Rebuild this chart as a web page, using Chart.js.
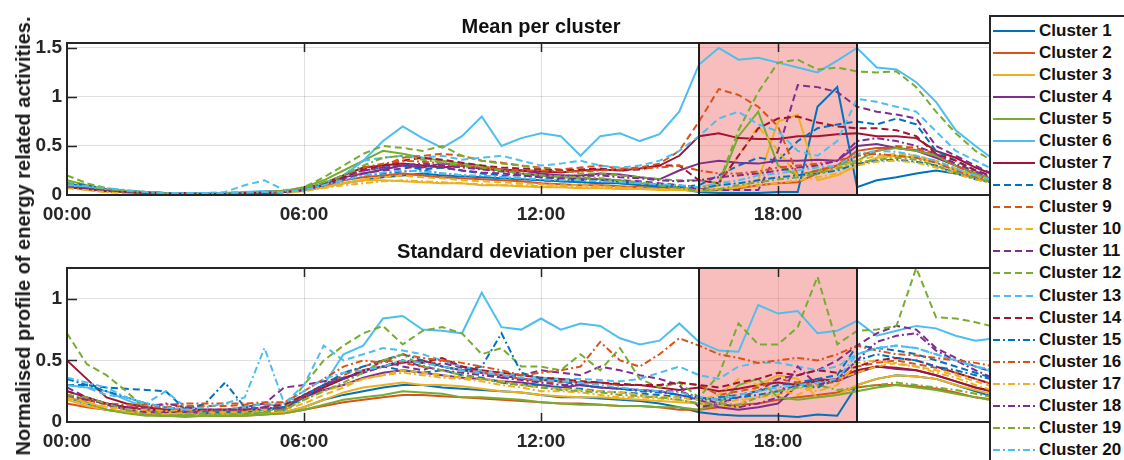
<!DOCTYPE html>
<html lang="en">
<head>
    <meta charset="UTF-8">
    <title>Cluster profiles</title>
    <script src="https://cdn.jsdelivr.net/npm/chart.js"></script>
    <style>
        body { margin: 0; background: #fff; width: 1124px; height: 460px; overflow: hidden; position: relative; font-family: "Liberation Sans", Arial, sans-serif; }
        canvas { position: absolute; left: 0; }
        #meanChart { top: 0; }
        #stdChart { top: 225px; }
        .ylabel { position: absolute; left: 23px; top: 236px; transform: translate(-50%, -50%) rotate(-90deg); white-space: nowrap; font-weight: bold; font-size: 20px; line-height: 1; color: #1a1a1a; }
        #legend { position: absolute; left: 989px; top: 15px; width: 150px; height: 470px; border: 2px solid #262626; background: #fff; }
        .row { position: absolute; left: 0; height: 22px; display: flex; align-items: center; white-space: nowrap; }
        .row svg { margin-left: 2px; margin-right: 4px; }
        .row span { font-weight: bold; font-size: 17px; color: #111; }
    </style>
</head>
<body>
    <canvas id="meanChart" width="1124" height="225"></canvas>
    <canvas id="stdChart" width="1124" height="235"></canvas>
    <div class="ylabel">Normalised profile of energy related activities.</div>
    <div id="legend"></div>

    <script>
        // time axis: half-hour samples over the day
        const hours = [0,0.5,1,1.5,2,2.5,3,3.5,4,4.5,5,5.5,6,6.5,7,7.5,8,8.5,9,9.5,10,10.5,11,11.5,
                       12,12.5,13,13.5,14,14.5,15,15.5,16,16.5,17,17.5,18,18.5,19,19.5,20,20.5,21,21.5,22,22.5,23,23.5,24];
        const timeTicks = [0, 6, 12, 18, 24];
        const timeTickLabels = ['00:00', '06:00', '12:00', '18:00', '24:00'];
        const meanTicks = [0, 0.5, 1, 1.5];
        const meanTickLabels = ['0', '0.5', '1', '1.5'];
        const stdTicks = [0, 0.5, 1];
        const stdTickLabels = ['0', '0.5', '1'];
        const peakWindow = [16, 20];
        const clusterNames = ['Cluster 1','Cluster 2','Cluster 3','Cluster 4','Cluster 5','Cluster 6','Cluster 7',
                              'Cluster 8','Cluster 9','Cluster 10','Cluster 11','Cluster 12','Cluster 13','Cluster 14',
                              'Cluster 15','Cluster 16','Cluster 17','Cluster 18','Cluster 19','Cluster 20'];

        // mean profile per cluster
        const mean01 = [0.12,0.08,0.05,0.03,0.02,0.02,0.01,0.01,0.01,0.02,0.02,0.03, 0.05,0.08,0.12,0.15,0.18,0.2,0.22,0.2,0.19,0.18,0.17,0.16, 0.15,0.14,0.13,0.12,0.12,0.1,0.08,0.06,0.03,0.02,0.02,0.02, 0.03,0.03,0.9,1.1,0.08,0.15,0.18,0.22,0.25,0.22,0.18,0.12, 0.08];
        const mean02 = [0.1,0.08,0.05,0.03,0.02,0.02,0.02,0.02,0.02,0.02,0.03,0.03, 0.06,0.1,0.15,0.18,0.2,0.22,0.2,0.18,0.17,0.16,0.15,0.14, 0.12,0.11,0.1,0.1,0.09,0.08,0.07,0.06,0.05,0.05,0.07,0.1, 0.12,0.13,0.22,0.3,0.45,0.48,0.48,0.46,0.4,0.3,0.22,0.15, 0.1];
        const mean03 = [0.08,0.06,0.04,0.03,0.02,0.01,0.01,0.01,0.01,0.02,0.02,0.03, 0.05,0.08,0.12,0.15,0.15,0.14,0.13,0.12,0.12,0.1,0.1,0.09, 0.08,0.08,0.07,0.07,0.06,0.06,0.05,0.05,0.04,0.05,0.08,0.15, 0.75,0.82,0.15,0.2,0.3,0.38,0.4,0.38,0.33,0.25,0.18,0.12, 0.08];
        const mean04 = [0.1,0.07,0.05,0.03,0.02,0.02,0.02,0.01,0.01,0.02,0.02,0.03, 0.06,0.12,0.18,0.22,0.26,0.3,0.28,0.32,0.3,0.27,0.26,0.25, 0.22,0.2,0.2,0.22,0.21,0.18,0.16,0.25,0.32,0.35,0.33,0.32, 0.35,0.35,0.36,0.35,0.5,0.52,0.48,0.45,0.38,0.3,0.22,0.15, 0.1];
        const mean05 = [0.15,0.1,0.06,0.04,0.03,0.02,0.02,0.02,0.02,0.02,0.03,0.04, 0.08,0.15,0.25,0.35,0.45,0.42,0.38,0.35,0.32,0.3,0.25,0.22, 0.2,0.18,0.17,0.16,0.15,0.12,0.1,0.08,0.05,0.1,0.6,0.85, 0.3,0.2,0.25,0.3,0.35,0.45,0.48,0.45,0.4,0.3,0.22,0.15, 0.1];
        const mean06 = [0.1,0.08,0.06,0.04,0.03,0.02,0.02,0.02,0.02,0.03,0.04,0.04, 0.05,0.1,0.2,0.35,0.55,0.7,0.58,0.48,0.6,0.8,0.5,0.58, 0.63,0.6,0.4,0.6,0.63,0.55,0.62,0.85,1.33,1.5,1.38,1.4, 1.35,1.3,1.25,1.37,1.5,1.3,1.28,1.15,0.95,0.66,0.5,0.35, 0.28];
        const mean07 = [0.08,0.06,0.04,0.03,0.02,0.02,0.02,0.01,0.01,0.02,0.02,0.03, 0.06,0.12,0.2,0.28,0.3,0.32,0.3,0.28,0.3,0.27,0.25,0.25, 0.24,0.23,0.25,0.26,0.25,0.27,0.3,0.4,0.6,0.63,0.58,0.57, 0.57,0.6,0.6,0.62,0.63,0.6,0.6,0.58,0.45,0.38,0.28,0.2, 0.15];
        const mean08 = [0.12,0.1,0.06,0.04,0.03,0.02,0.02,0.02,0.02,0.02,0.03,0.03, 0.06,0.1,0.18,0.25,0.28,0.3,0.26,0.28,0.25,0.22,0.2,0.2, 0.18,0.16,0.15,0.15,0.14,0.12,0.1,0.08,0.1,0.2,0.3,0.38, 0.35,0.55,0.68,0.72,0.75,0.72,0.78,0.72,0.45,0.35,0.25,0.18, 0.12];
        const mean09 = [0.1,0.07,0.05,0.03,0.02,0.02,0.02,0.02,0.02,0.02,0.03,0.04, 0.06,0.1,0.15,0.25,0.3,0.38,0.4,0.42,0.4,0.35,0.33,0.3, 0.28,0.26,0.28,0.3,0.27,0.28,0.32,0.45,0.75,1.08,1.02,0.9, 0.7,0.2,0.25,0.3,0.4,0.45,0.5,0.48,0.42,0.3,0.2,0.15, 0.1];
        const mean10 = [0.08,0.05,0.03,0.02,0.02,0.01,0.01,0.01,0.01,0.01,0.02,0.02, 0.04,0.08,0.12,0.16,0.18,0.2,0.18,0.17,0.15,0.14,0.13,0.12, 0.11,0.1,0.1,0.09,0.08,0.07,0.06,0.06,0.08,0.12,0.4,0.7, 0.45,0.2,0.22,0.28,0.35,0.4,0.42,0.4,0.35,0.27,0.2,0.14, 0.1];
        const mean11 = [0.1,0.07,0.04,0.03,0.02,0.02,0.01,0.01,0.01,0.02,0.02,0.03, 0.05,0.1,0.16,0.22,0.25,0.27,0.3,0.28,0.25,0.23,0.22,0.2, 0.18,0.17,0.16,0.16,0.15,0.14,0.12,0.1,0.06,0.05,0.05,0.05, 0.45,1.12,1.1,1.05,0.9,0.85,0.82,0.78,0.5,0.4,0.3,0.2, 0.15];
        const mean12 = [0.2,0.12,0.07,0.04,0.03,0.02,0.02,0.02,0.02,0.03,0.03,0.04, 0.08,0.18,0.3,0.42,0.5,0.48,0.45,0.5,0.4,0.35,0.32,0.3, 0.27,0.25,0.22,0.22,0.2,0.18,0.16,0.15,0.15,0.12,0.66,1.05, 1.35,1.38,1.28,1.3,1.26,1.25,1.26,1.1,0.85,0.63,0.45,0.33, 0.25];
        const mean13 = [0.1,0.08,0.05,0.03,0.02,0.02,0.02,0.02,0.03,0.1,0.15,0.05, 0.06,0.12,0.2,0.35,0.38,0.4,0.38,0.4,0.36,0.38,0.4,0.35, 0.3,0.32,0.35,0.3,0.28,0.3,0.35,0.45,0.6,0.78,0.85,0.72, 0.65,0.45,0.4,0.55,0.98,0.95,0.9,0.85,0.65,0.45,0.35,0.25, 0.2];
        const mean14 = [0.08,0.06,0.04,0.03,0.02,0.02,0.01,0.01,0.01,0.02,0.02,0.03, 0.05,0.1,0.18,0.26,0.3,0.35,0.38,0.36,0.33,0.3,0.28,0.27, 0.26,0.25,0.26,0.27,0.25,0.26,0.3,0.3,0.15,0.12,0.4,0.68, 0.78,0.8,0.74,0.7,0.68,0.68,0.66,0.6,0.42,0.35,0.25,0.18, 0.12];
        const mean15 = [0.1,0.08,0.05,0.03,0.02,0.02,0.02,0.02,0.02,0.02,0.03,0.03, 0.05,0.1,0.15,0.2,0.22,0.24,0.25,0.22,0.2,0.19,0.18,0.17, 0.15,0.14,0.13,0.13,0.12,0.11,0.1,0.09,0.08,0.1,0.12,0.15, 0.18,0.2,0.22,0.25,0.32,0.35,0.36,0.34,0.3,0.22,0.16,0.12, 0.08];
        const mean16 = [0.1,0.07,0.04,0.03,0.02,0.02,0.02,0.02,0.02,0.02,0.03,0.04, 0.07,0.12,0.2,0.28,0.32,0.35,0.34,0.32,0.3,0.28,0.26,0.25, 0.25,0.24,0.24,0.25,0.26,0.27,0.28,0.3,0.25,0.22,0.22,0.24, 0.28,0.3,0.32,0.35,0.4,0.42,0.4,0.38,0.33,0.25,0.18,0.13, 0.09];
        const mean17 = [0.07,0.05,0.03,0.02,0.01,0.01,0.01,0.01,0.01,0.01,0.02,0.02, 0.04,0.07,0.1,0.12,0.14,0.15,0.14,0.13,0.12,0.11,0.1,0.1, 0.09,0.09,0.08,0.08,0.07,0.07,0.06,0.05,0.05,0.06,0.08,0.1, 0.12,0.15,0.18,0.22,0.3,0.34,0.35,0.33,0.28,0.22,0.16,0.11, 0.07];
        const mean18 = [0.09,0.07,0.05,0.03,0.02,0.02,0.02,0.02,0.02,0.02,0.02,0.03, 0.06,0.12,0.2,0.25,0.28,0.3,0.32,0.3,0.28,0.26,0.24,0.22, 0.2,0.2,0.19,0.2,0.18,0.17,0.15,0.14,0.15,0.18,0.2,0.22, 0.25,0.28,0.3,0.35,0.55,0.58,0.55,0.5,0.42,0.32,0.24,0.17, 0.12];
        const mean19 = [0.12,0.09,0.06,0.04,0.03,0.02,0.02,0.02,0.02,0.02,0.03,0.04, 0.07,0.13,0.2,0.3,0.38,0.4,0.36,0.33,0.3,0.28,0.25,0.22, 0.2,0.19,0.18,0.17,0.15,0.13,0.1,0.07,0.04,0.06,0.1,0.13, 0.16,0.18,0.22,0.27,0.33,0.36,0.38,0.36,0.3,0.23,0.17,0.12, 0.08];
        const mean20 = [0.1,0.09,0.07,0.05,0.03,0.02,0.02,0.02,0.02,0.03,0.03,0.03, 0.05,0.1,0.15,0.2,0.23,0.25,0.24,0.22,0.2,0.2,0.18,0.17, 0.16,0.15,0.15,0.14,0.13,0.12,0.11,0.1,0.08,0.12,0.15,0.2, 0.22,0.25,0.28,0.3,0.42,0.45,0.44,0.4,0.35,0.27,0.2,0.14, 0.1];

        // standard deviation per cluster
        const std01 = [0.2,0.15,0.1,0.08,0.06,0.05,0.05,0.05,0.05,0.06,0.07,0.08, 0.12,0.18,0.22,0.25,0.28,0.3,0.3,0.28,0.27,0.26,0.25,0.24, 0.22,0.2,0.2,0.19,0.18,0.17,0.15,0.12,0.08,0.06,0.05,0.05, 0.05,0.04,0.06,0.05,0.3,0.35,0.38,0.37,0.35,0.3,0.25,0.2, 0.15];
        const std02 = [0.15,0.12,0.1,0.08,0.06,0.05,0.05,0.05,0.05,0.05,0.06,0.07, 0.1,0.13,0.16,0.18,0.2,0.22,0.22,0.21,0.2,0.19,0.18,0.17, 0.16,0.15,0.15,0.14,0.13,0.13,0.12,0.1,0.1,0.12,0.14,0.15, 0.18,0.2,0.22,0.24,0.28,0.3,0.3,0.29,0.27,0.24,0.2,0.18, 0.15];
        const std03 = [0.18,0.13,0.1,0.08,0.07,0.06,0.06,0.05,0.06,0.06,0.07,0.08, 0.12,0.18,0.24,0.28,0.3,0.32,0.3,0.3,0.29,0.27,0.25,0.24, 0.22,0.21,0.2,0.2,0.19,0.18,0.17,0.16,0.15,0.13,0.12,0.3, 0.38,0.35,0.2,0.22,0.3,0.35,0.38,0.37,0.35,0.3,0.26,0.22, 0.18];
        const std04 = [0.25,0.2,0.15,0.12,0.1,0.08,0.08,0.07,0.08,0.08,0.1,0.12, 0.2,0.26,0.3,0.36,0.4,0.42,0.4,0.38,0.36,0.35,0.33,0.32, 0.3,0.28,0.3,0.28,0.27,0.26,0.25,0.22,0.18,0.12,0.1,0.12, 0.15,0.3,0.35,0.33,0.4,0.45,0.43,0.42,0.38,0.33,0.28,0.24, 0.2];
        const std05 = [0.2,0.16,0.1,0.07,0.05,0.05,0.04,0.05,0.05,0.05,0.06,0.07, 0.1,0.14,0.18,0.2,0.22,0.25,0.24,0.23,0.2,0.2,0.19,0.18, 0.16,0.15,0.14,0.14,0.13,0.13,0.12,0.12,0.1,0.15,0.3,0.35, 0.2,0.18,0.2,0.22,0.25,0.28,0.3,0.28,0.26,0.23,0.2,0.17, 0.14];
        const std06 = [0.3,0.28,0.25,0.18,0.12,0.1,0.1,0.08,0.1,0.12,0.15,0.12, 0.2,0.3,0.55,0.62,0.84,0.86,0.75,0.74,0.72,1.05,0.77,0.75, 0.84,0.75,0.8,0.78,0.68,0.63,0.66,0.8,0.65,0.58,0.57,0.95, 0.88,0.9,0.72,0.74,0.82,0.7,0.74,0.78,0.76,0.7,0.66,0.68, 0.66];
        const std07 = [0.5,0.35,0.2,0.15,0.12,0.1,0.1,0.1,0.1,0.1,0.1,0.12, 0.2,0.28,0.35,0.42,0.45,0.48,0.5,0.45,0.42,0.4,0.38,0.35, 0.34,0.33,0.32,0.32,0.3,0.3,0.28,0.26,0.28,0.25,0.27,0.3, 0.32,0.3,0.33,0.35,0.42,0.45,0.44,0.42,0.38,0.33,0.28,0.25, 0.22];
        const std08 = [0.3,0.3,0.28,0.27,0.26,0.25,0.1,0.08,0.08,0.08,0.1,0.12, 0.22,0.3,0.36,0.4,0.45,0.42,0.4,0.42,0.38,0.36,0.32,0.3, 0.3,0.28,0.27,0.25,0.24,0.23,0.22,0.2,0.18,0.2,0.22,0.25, 0.3,0.32,0.35,0.38,0.62,0.6,0.58,0.55,0.5,0.45,0.4,0.35, 0.3];
        const std09 = [0.22,0.18,0.14,0.12,0.12,0.12,0.13,0.13,0.13,0.14,0.14,0.14, 0.2,0.3,0.38,0.45,0.5,0.48,0.45,0.5,0.45,0.4,0.38,0.35, 0.33,0.32,0.33,0.32,0.3,0.3,0.3,0.32,0.3,0.22,0.25,0.28, 0.35,0.32,0.3,0.33,0.45,0.48,0.5,0.47,0.44,0.4,0.35,0.3, 0.28];
        const std10 = [0.2,0.16,0.12,0.1,0.08,0.08,0.07,0.07,0.08,0.08,0.09,0.1, 0.15,0.22,0.28,0.35,0.38,0.42,0.4,0.38,0.36,0.35,0.33,0.3, 0.28,0.27,0.26,0.25,0.24,0.22,0.2,0.2,0.18,0.22,0.35,0.3, 0.26,0.22,0.3,0.35,0.4,0.45,0.48,0.45,0.42,0.38,0.33,0.28, 0.25];
        const std11 = [0.28,0.2,0.14,0.1,0.08,0.08,0.09,0.1,0.1,0.12,0.15,0.28, 0.3,0.33,0.36,0.4,0.5,0.45,0.42,0.48,0.44,0.4,0.36,0.38, 0.42,0.4,0.38,0.45,0.42,0.38,0.35,0.3,0.12,0.15,0.2,0.25, 0.35,0.38,0.42,0.5,0.62,0.72,0.78,0.75,0.6,0.52,0.45,0.4, 0.35];
        const std12 = [0.72,0.47,0.38,0.25,0.1,0.05,0.06,0.05,0.05,0.06,0.08,0.1, 0.3,0.5,0.62,0.72,0.78,0.63,0.74,0.77,0.72,0.55,0.6,0.45, 0.45,0.42,0.55,0.42,0.6,0.35,0.28,0.32,0.2,0.38,0.8,0.63, 0.63,0.77,1.18,0.63,0.74,0.75,0.78,1.25,0.85,0.84,0.81,0.77, 0.75];
        const std13 = [0.3,0.28,0.22,0.2,0.15,0.25,0.12,0.1,0.1,0.12,0.15,0.15, 0.3,0.62,0.5,0.55,0.6,0.58,0.55,0.5,0.45,0.42,0.4,0.38, 0.36,0.35,0.35,0.34,0.33,0.35,0.4,0.45,0.38,0.35,0.45,0.48, 0.48,0.45,0.42,0.45,0.55,0.6,0.62,0.6,0.55,0.5,0.45,0.4, 0.36];
        const std14 = [0.25,0.2,0.15,0.12,0.1,0.1,0.1,0.1,0.1,0.1,0.12,0.14, 0.22,0.3,0.35,0.42,0.45,0.5,0.48,0.52,0.45,0.42,0.4,0.38, 0.36,0.35,0.33,0.32,0.31,0.3,0.3,0.32,0.3,0.28,0.32,0.35, 0.4,0.38,0.42,0.4,0.45,0.5,0.52,0.5,0.45,0.4,0.35,0.3, 0.27];
        const std15 = [0.35,0.3,0.25,0.2,0.15,0.12,0.1,0.15,0.32,0.12,0.1,0.1, 0.2,0.3,0.4,0.45,0.5,0.55,0.5,0.45,0.42,0.45,0.72,0.4, 0.35,0.33,0.3,0.28,0.27,0.25,0.24,0.22,0.2,0.18,0.2,0.22, 0.25,0.3,0.28,0.35,0.5,0.55,0.52,0.5,0.45,0.42,0.38,0.34, 0.3];
        const std16 = [0.2,0.18,0.15,0.14,0.14,0.14,0.15,0.15,0.15,0.15,0.16,0.16, 0.25,0.35,0.45,0.5,0.48,0.55,0.52,0.5,0.48,0.45,0.42,0.38, 0.4,0.42,0.45,0.65,0.5,0.45,0.55,0.68,0.62,0.55,0.52,0.48, 0.5,0.52,0.5,0.55,0.62,0.58,0.55,0.54,0.52,0.5,0.48,0.45, 0.42];
        const std17 = [0.2,0.15,0.12,0.1,0.1,0.09,0.1,0.1,0.1,0.1,0.1,0.1, 0.18,0.25,0.3,0.35,0.38,0.4,0.38,0.36,0.35,0.33,0.3,0.28, 0.25,0.25,0.24,0.22,0.2,0.2,0.19,0.18,0.15,0.15,0.18,0.2, 0.22,0.28,0.25,0.3,0.48,0.5,0.47,0.45,0.4,0.36,0.3,0.25, 0.22];
        const std18 = [0.22,0.18,0.15,0.12,0.12,0.15,0.12,0.1,0.1,0.1,0.12,0.1, 0.22,0.3,0.35,0.4,0.45,0.5,0.45,0.42,0.4,0.38,0.36,0.34, 0.32,0.3,0.3,0.28,0.27,0.26,0.25,0.25,0.2,0.15,0.12,0.15, 0.2,0.45,0.3,0.35,0.5,0.65,0.7,0.72,0.58,0.5,0.42,0.35, 0.3];
        const std19 = [0.22,0.2,0.15,0.1,0.06,0.05,0.06,0.07,0.06,0.07,0.08,0.1, 0.18,0.25,0.32,0.4,0.5,0.55,0.45,0.42,0.38,0.35,0.32,0.3, 0.28,0.26,0.25,0.24,0.22,0.21,0.2,0.18,0.15,0.15,0.14,0.2, 0.25,0.28,0.3,0.26,0.28,0.3,0.32,0.3,0.28,0.26,0.23,0.2, 0.17];
        const std20 = [0.36,0.32,0.28,0.2,0.15,0.12,0.1,0.12,0.15,0.2,0.6,0.15, 0.25,0.35,0.4,0.42,0.45,0.5,0.48,0.45,0.42,0.4,0.38,0.36, 0.34,0.33,0.32,0.3,0.28,0.26,0.25,0.24,0.2,0.18,0.22,0.25, 0.28,0.3,0.32,0.35,0.55,0.6,0.62,0.6,0.55,0.5,0.45,0.42, 0.38];

        const meanSeries = [mean01, mean02, mean03, mean04, mean05, mean06, mean07, mean08, mean09, mean10,
                            mean11, mean12, mean13, mean14, mean15, mean16, mean17, mean18, mean19, mean20];
        const stdSeries = [std01, std02, std03, std04, std05, std06, std07, std08, std09, std10,
                           std11, std12, std13, std14, std15, std16, std17, std18, std19, std20];

        // MATLAB default line colours, cycled; 1-7 solid, 8-14 dashed, 15-20 dash-dot
        const palette = ['#0072BD', '#D95319', '#EDB120', '#7E2F8E', '#77AC30', '#4DBEEE', '#A2142F'];
        function dashFor(i) {
            if (i < 7) return [];
            if (i < 14) return [7, 4];
            return [7, 3, 2, 3];
        }

        const FONT = "'Liberation Sans', Arial, sans-serif";
        const INK = '#262626';

        // shaded peak window, axes box, inward ticks and panel title
        const panelFrame = {
            id: 'panelFrame',
            beforeDatasetsDraw(chart) {
                const { ctx, chartArea: a, scales: { x } } = chart;
                const x0 = x.getPixelForValue(peakWindow[0]);
                const x1 = x.getPixelForValue(peakWindow[1]);
                ctx.save();
                ctx.fillStyle = 'rgba(240, 110, 110, 0.45)';
                ctx.fillRect(x0, a.top, x1 - x0, a.bottom - a.top);
                ctx.restore();
            },
            afterDatasetsDraw(chart, args, opts) {
                const { ctx, chartArea: a, scales: { x, y } } = chart;
                const x0 = x.getPixelForValue(peakWindow[0]);
                const x1 = x.getPixelForValue(peakWindow[1]);
                ctx.save();
                ctx.strokeStyle = INK;
                ctx.lineWidth = 1.5;
                ctx.beginPath();
                timeTicks.slice(1, -1).forEach(t => {
                    const px = Math.round(x.getPixelForValue(t)) + 0.5;
                    ctx.moveTo(px, a.top); ctx.lineTo(px, a.top + 9);
                    ctx.moveTo(px, a.bottom); ctx.lineTo(px, a.bottom - 9);
                });
                opts.yTicks.slice(1).forEach(v => {
                    const py = Math.round(y.getPixelForValue(v)) + 0.5;
                    ctx.moveTo(a.left, py); ctx.lineTo(a.left + 10, py);
                });
                ctx.stroke();

                ctx.lineWidth = 2;
                ctx.strokeRect(a.left, a.top, a.right - a.left, a.bottom - a.top);
                ctx.strokeStyle = '#1e1e1e';
                ctx.strokeRect(x0, a.top, x1 - x0, a.bottom - a.top);

                ctx.fillStyle = '#111';
                ctx.font = 'bold 20px ' + FONT;
                ctx.textAlign = 'center';
                ctx.textBaseline = 'alphabetic';
                ctx.fillText(opts.title, (a.left + a.right) / 2, a.top - 10);
                ctx.restore();
            }
        };

        function makePanel(canvasId, series, yMax, yTicks, yTickLabels, title, bottomSpace) {
            return new Chart(document.getElementById(canvasId), {
                type: 'line',
                data: {
                    labels: hours,
                    datasets: series.map((vals, i) => ({
                        label: clusterNames[i],
                        data: vals,
                        borderColor: palette[i % 7],
                        borderWidth: 2,
                        borderDash: dashFor(i),
                        pointRadius: 0,
                        tension: 0,
                        fill: false,
                        order: series.length - i
                    }))
                },
                options: {
                    responsive: false,
                    animation: false,
                    devicePixelRatio: 1,
                    layout: { padding: { top: 43, right: 109, left: 0, bottom: 0 } },
                    plugins: {
                        legend: { display: false },
                        tooltip: { enabled: false },
                        panelFrame: { title: title, yTicks: yTicks }
                    },
                    scales: {
                        x: {
                            type: 'linear',
                            min: 0,
                            max: 24,
                            afterBuildTicks: s => { s.ticks = timeTicks.map(v => ({ value: v })); },
                            afterFit: s => { s.height = bottomSpace; },
                            ticks: {
                                autoSkip: false,
                                maxRotation: 0,
                                padding: 8,
                                color: INK,
                                font: { family: FONT, size: 19, weight: 'bold' },
                                callback: (v, idx) => timeTickLabels[idx]
                            },
                            grid: { color: 'rgba(38,38,38,0.15)', drawTicks: false },
                            border: { display: false }
                        },
                        y: {
                            min: 0,
                            max: yMax,
                            afterBuildTicks: s => { s.ticks = yTicks.map(v => ({ value: v })); },
                            afterFit: s => { s.width = 67; },
                            ticks: {
                                padding: 5,
                                color: INK,
                                font: { family: FONT, size: 19, weight: 'bold' },
                                callback: (v, idx) => yTickLabels[idx]
                            },
                            grid: { color: 'rgba(38,38,38,0.15)', drawTicks: false },
                            border: { display: false }
                        }
                    }
                },
                plugins: [panelFrame]
            });
        }

        makePanel('meanChart', meanSeries, 1.55, meanTicks, meanTickLabels, 'Mean per cluster', 30);
        makePanel('stdChart', stdSeries, 1.25, stdTicks, stdTickLabels, 'Standard deviation per cluster', 38);

        // shared legend box on the right
        const legend = document.getElementById('legend');
        clusterNames.forEach((name, i) => {
            const row = document.createElement('div');
            row.className = 'row';
            row.style.top = (13.7 + i * 22.07 - 11) + 'px';
            const dash = dashFor(i).join(' ');
            row.innerHTML =
                '<svg width="42" height="6"><line x1="0" y1="3" x2="42" y2="3" stroke="' + palette[i % 7] +
                '" stroke-width="2"' + (dash ? ' stroke-dasharray="' + dash + '"' : '') + '/></svg>' +
                '<span>' + name + '</span>';
            legend.appendChild(row);
        });
    </script>
</body>
</html>
